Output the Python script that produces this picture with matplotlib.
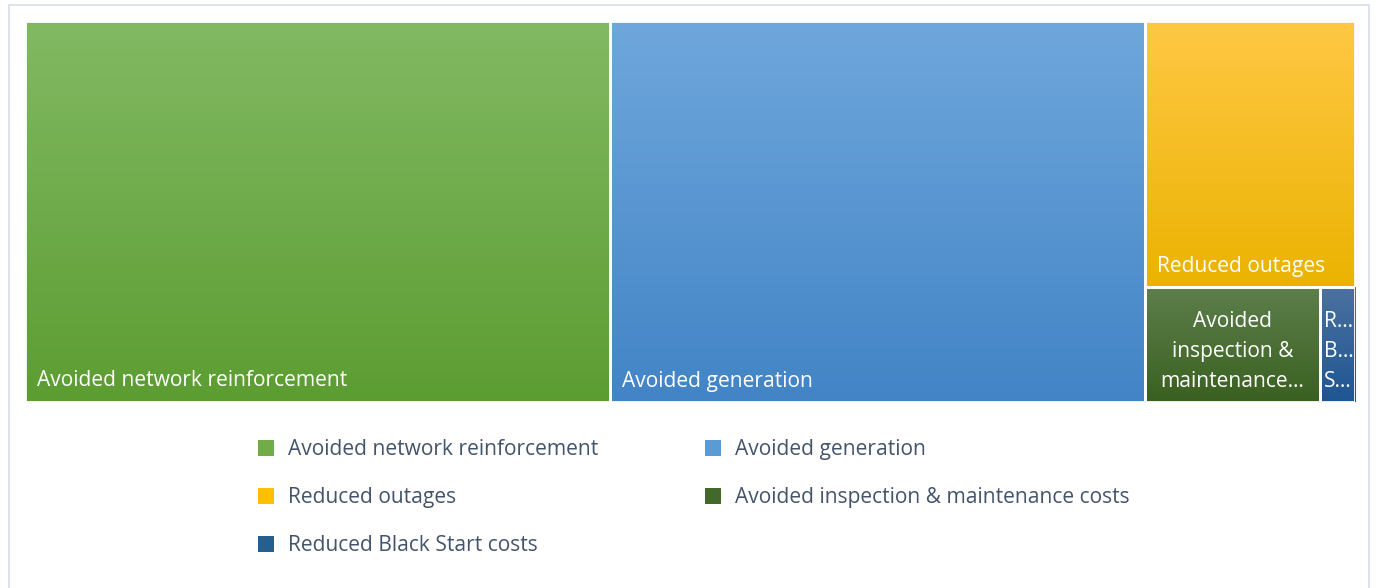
import numpy as np
import matplotlib.pyplot as plt
from matplotlib.patches import Rectangle
from matplotlib.colors import LinearSegmentedColormap

plt.rcParams['font.family'] = ['Open Sans', 'DejaVu Sans']

categories = ["Avoided network reinforcement", "Avoided generation", "Reduced outages",
              "Avoided inspection & maintenance costs", "Reduced Black Start costs"]
values = [44.0, 40.2, 11.0, 3.95, 0.8]
box_labels = ["Avoided network reinforcement", "Avoided generation", "Reduced outages",
              "Avoided\ninspection &\nmaintenance…", "R…\nB…\nS…"]
top_colors = ["#82b963", "#6fa7dc", "#ffc845", "#5d7f4c", "#4b71a0"]
bottom_colors = ["#5c9d32", "#4284c6", "#ebb300", "#3a6020", "#1e5592"]
legend_colors = ["#70ad47", "#5b9bd5", "#ffc000", "#43682b", "#255e91"]


def squarify(vals, x, y, w, h):
    # squarified treemap, vals sorted descending, y measured downward
    rects = []
    total = sum(vals)
    scale = w * h / total
    areas = [v * scale for v in vals]

    def worst(row, side):
        s = sum(row)
        return max(max(side * side * r / (s * s), s * s / (side * side * r)) for r in row)

    i = 0
    while i < len(areas):
        side = min(w, h)
        row = [areas[i]]
        j = i + 1
        while j < len(areas) and worst(row + [areas[j]], side) <= worst(row, side):
            row.append(areas[j])
            j += 1
        s = sum(row)
        if w >= h:
            rw = s / h
            yy = y
            for a in row:
                rects.append((x, yy, rw, a / rw))
                yy += a / rw
            x += rw
            w -= rw
        else:
            rh = s / w
            xx = x
            for a in row:
                rects.append((xx, y, a / rh, rh))
                xx += a / rh
            y += rh
            h -= rh
        i = j
    return rects


W, H = 1330, 381
fig = plt.figure(figsize=(13.76, 5.88), dpi=100)
fig.add_artist(Rectangle((9 / 1376, -0.05), 1360 / 1376, 1.05 - 5 / 588, transform=fig.transFigure,
                         fill=False, edgecolor="#d9dde6", linewidth=1.2))
ax = fig.add_axes([25 / 1376, 1 - 402 / 588, W / 1376, H / 588])
ax.axis('off')

rects = squarify(values, 0, 0, W, H)
grad = np.linspace(0, 1, 256).reshape(-1, 1)
for k, (rx, ry, rw, rh) in enumerate(rects):
    cmap = LinearSegmentedColormap.from_list("g%d" % k, [top_colors[k], bottom_colors[k]])
    ax.imshow(grad, cmap=cmap, aspect='auto', extent=(rx, rx + rw, ry + rh, ry), zorder=1)
    ax.add_patch(Rectangle((rx, ry), rw, rh, fill=False, edgecolor="white", linewidth=2, zorder=2))
ax.set_xlim(0, W)
ax.set_ylim(H, 0)

fs = 15.1
for k, (rx, ry, rw, rh) in enumerate(rects):
    if k < 3:
        ax.text(rx + 12, ry + rh - 21, box_labels[k], color="white", fontsize=fs, va='center', ha='left', zorder=3)
    elif k == 3:
        ax.text(rx + rw / 2, ry + rh / 2 + 7, box_labels[k], color="white", fontsize=fs, va='center',
                ha='center', linespacing=1.55, zorder=3)
    else:
        ax.text(rx + 4, ry + rh / 2 + 7, box_labels[k], color="white", fontsize=fs, va='center',
                ha='left', linespacing=1.55, zorder=3)

# legend, row-major order
text_color = "#44546a"
leg_pos = [(258, 448), (705, 448), (258, 496), (705, 496), (258, 544)]
for k, (lx, ly) in enumerate(leg_pos):
    fig.add_artist(Rectangle((lx / 1376, 1 - (ly + 8) / 588), 16 / 1376, 16 / 588,
                             transform=fig.transFigure, facecolor=legend_colors[k], edgecolor='none'))
    fig.text((lx + 30) / 1376, 1 - (ly + 1.5) / 588, categories[k], color=text_color, fontsize=fs,
             va='center', ha='left')

fig.savefig("out.png", dpi=100)
